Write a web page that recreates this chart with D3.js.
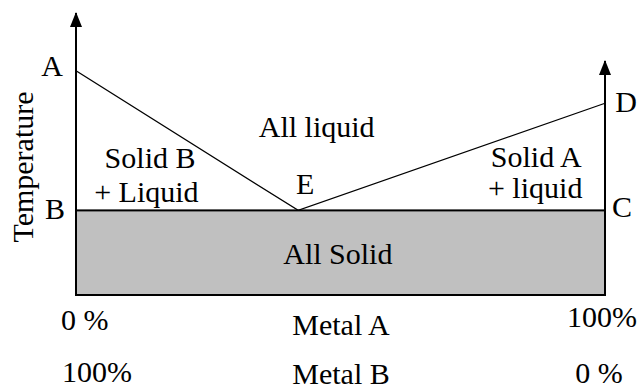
<!DOCTYPE html>
<html>
<head>
<meta charset="utf-8">
<script src="https://cdn.jsdelivr.net/npm/d3@7"></script>
<style>
  body { margin: 0; background: #fff; }
  svg { display: block; }
</style>
</head>
<body>
<div id="chart"></div>
<script>
// composition = % of Metal A, temperature in arbitrary units
const pointNames = ["A", "B", "C", "D", "E"];
const pointComp  = [0, 0, 100, 100, 42];
const pointTemp  = [79.5, 30, 30, 68, 30];

const liquidusComp = [0, 42, 100];
const liquidusTemp = [79.5, 30, 68];
const eutecticTemp = 30;
const axisTopTemp = [100, 83];   // left axis, right axis

const regionNames = ["All liquid", "Solid B", "+ Liquid", "Solid A", "+ liquid", "All Solid"];
const metalARow = ["0 %", "Metal A", "100%"];
const metalBRow = ["100%", "Metal B", "0 %"];
const yTitle = "Temperature";

const width = 639, height = 390;
const font = "'Liberation Serif', 'Times New Roman', 'DejaVu Serif', serif";
const fs = 30;

const svg = d3.select("#chart").append("svg")
    .attr("width", width)
    .attr("height", height)
    .attr("font-family", font);

const x = d3.scaleLinear().domain([0, 100]).range([76, 605]);
const y = d3.scaleLinear().domain([0, 100]).range([295, 13]);

// arrow marker for temperature axes
svg.append("defs").append("marker")
    .attr("id", "arrow")
    .attr("viewBox", "0 0 12 15")
    .attr("refX", 6).attr("refY", 1)
    .attr("markerWidth", 12).attr("markerHeight", 15)
    .attr("markerUnits", "userSpaceOnUse")
    .attr("orient", "0")
    .append("path")
    .attr("d", "M6,0 L12,15 L0,15 Z")
    .attr("fill", "#000");

// solid region
svg.append("rect")
    .attr("x", x(0))
    .attr("y", y(eutecticTemp))
    .attr("width", x(100) - x(0))
    .attr("height", y(0) - y(eutecticTemp))
    .attr("fill", "#c0c0c0")
    .attr("stroke", "#000")
    .attr("stroke-width", 2);

// temperature axes
[0, 100].forEach((c, i) => {
    svg.append("line")
        .attr("x1", x(c)).attr("x2", x(c))
        .attr("y1", y(0)).attr("y2", y(axisTopTemp[i]))
        .attr("stroke", "#000")
        .attr("stroke-width", 2)
        .attr("marker-end", "url(#arrow)");
});

// liquidus lines
const line = d3.line().x(d => x(d[0])).y(d => y(d[1]));
svg.append("path")
    .datum(d3.zip(liquidusComp, liquidusTemp))
    .attr("d", line)
    .attr("fill", "none")
    .attr("stroke", "#000")
    .attr("stroke-width", 1.3);

function label(t, px, py, anchor) {
    return svg.append("text")
        .attr("x", px).attr("y", py)
        .attr("text-anchor", anchor || "middle")
        .attr("font-family", font)
        .attr("font-size", fs)
        .attr("fill", "#000")
        .text(t);
}

// point letters
const pointOffsets = {A: [-24, 5], B: [-21, 9], C: [17, 7], D: [21, 9], E: [7, -16]};
pointNames.forEach((n, i) => {
    label(n, x(pointComp[i]) + pointOffsets[n][0], y(pointTemp[i]) + pointOffsets[n][1]);
});

// region labels (composition, temperature of anchor)
const regionPos = [[45.5, 56], [14, 45], [13.3, 33], [87, 45.5], [86.8, 34.5], [49.5, 11]];
regionNames.forEach((t, i) => label(t, x(regionPos[i][0]), y(regionPos[i][1])));

// composition rows
const rowAX = [[61, "start"], [341, "middle"], [602, "middle"]];
const rowBX = [[62, "start"], [341, "middle"], [599, "middle"]];
const rowAY = [330, 335, 327];
const rowBY = [382, 384, 383];
metalARow.forEach((t, i) => label(t, rowAX[i][0], rowAY[i], rowAX[i][1]));
metalBRow.forEach((t, i) => label(t, rowBX[i][0], rowBY[i], rowBX[i][1]));

// y title
label(yTitle, 0, 0).attr("transform", "translate(33,167) rotate(-90)");
</script>
</body>
</html>
